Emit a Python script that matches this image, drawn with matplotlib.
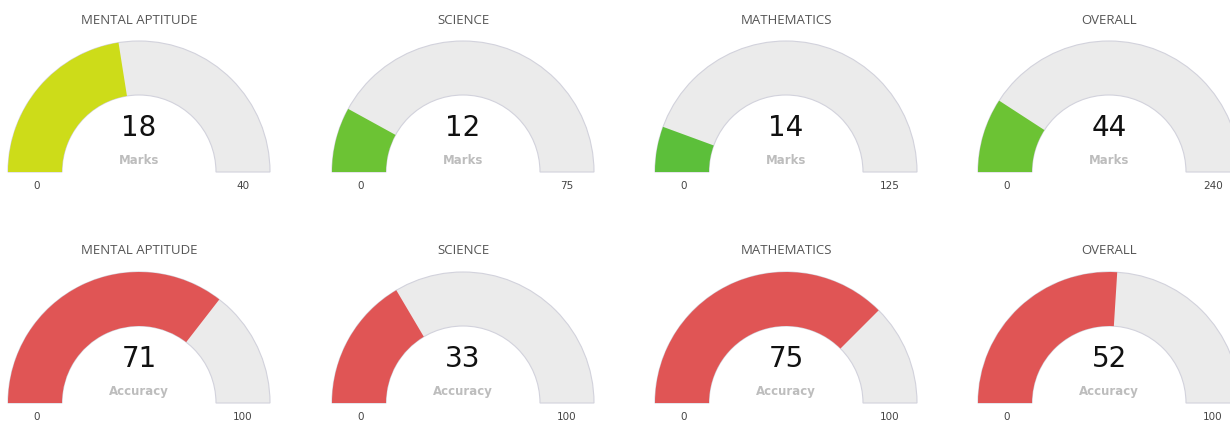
"""
Gauges de marks y accuracy por materia
"""
import matplotlib.pyplot as plt
from matplotlib.patches import Wedge

subjects = ["MENTAL APTITUDE", "SCIENCE", "MATHEMATICS", "OVERALL"]
marks = [18, 12, 14, 44]
marks_max = [40, 75, 125, 240]
marks_colors = ["#cddc19", "#6cc334", "#5cbf3a", "#6cc334"]
accuracy = [71, 33, 75, 52]
accuracy_max = [100, 100, 100, 100]
accuracy_color = "#e05555"

W, H = 1230, 421
R_OUT, R_IN = 131, 77
centers_x = [139, 463, 786, 1109]
rows_y = [H - 172, H - 403]  # centro de cada fila (desde abajo)


def gauge(ax, cx, cy, title, val, vmax, color, label):
    # fondo gris
    ax.add_patch(Wedge((cx, cy), R_OUT, 0, 180, width=R_OUT - R_IN,
                       facecolor="#ebebeb", edgecolor="#d2d2dc", lw=0.8))
    # valor
    ang = 180 - 180 * val / vmax
    ax.add_patch(Wedge((cx, cy), R_OUT, ang, 180, width=R_OUT - R_IN,
                       facecolor=color, edgecolor="none"))
    ax.text(cx, cy + 152, title, ha="center", va="center", fontsize=9.5,
            color="#555555", family="Open Sans")
    ax.text(cx, cy + 44, str(val), ha="center", va="center", fontsize=20,
            color="#111111", family="DejaVu Sans")
    ax.text(cx, cy + 11, label, ha="center", va="center", fontsize=8.5,
            color="#bdbdbd", fontweight="bold", family="DejaVu Sans")
    mid = (R_OUT + R_IN) / 2
    ax.text(cx - mid + 2, cy - 14, "0", ha="center", va="center",
            fontsize=7.5, color="#444444", family="DejaVu Sans")
    ax.text(cx + mid, cy - 14, str(vmax), ha="center", va="center",
            fontsize=7.5, color="#444444", family="DejaVu Sans")


fig = plt.figure(figsize=(W / 100, H / 100), dpi=100)
ax = fig.add_axes([0, 0, 1, 1])
ax.set_xlim(0, W)
ax.set_ylim(0, H)
ax.axis("off")

for i in range(len(subjects)):
    gauge(ax, centers_x[i], rows_y[0], subjects[i], marks[i], marks_max[i],
          marks_colors[i], "Marks")
    gauge(ax, centers_x[i], rows_y[1], subjects[i], accuracy[i],
          accuracy_max[i], accuracy_color, "Accuracy")

fig.savefig("out.png", dpi=100, facecolor="white")
